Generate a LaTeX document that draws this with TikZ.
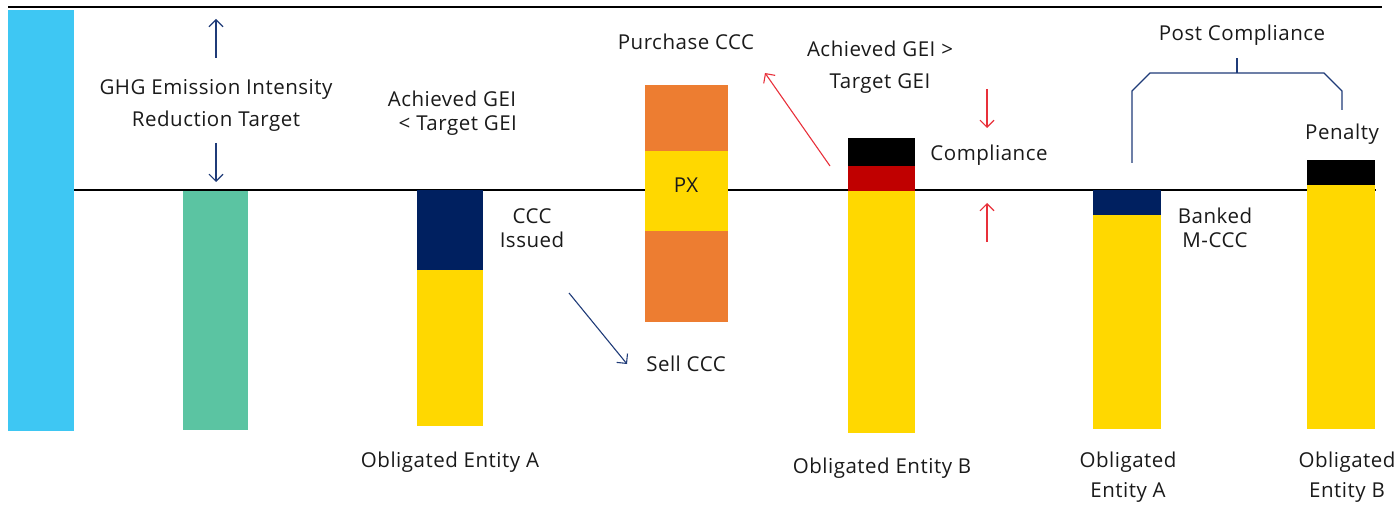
\documentclass[tikz,border=0pt]{standalone}
\usepackage{fontspec}
\setmainfont{Open Sans}[LetterSpace=2.5]
\usetikzlibrary{arrows.meta}
\definecolor{skyblue}{HTML}{3EC7F3}
\definecolor{teal}{HTML}{5BC4A2}
\definecolor{navy}{HTML}{002060}
\definecolor{arrownavy}{HTML}{1F3B78}
\definecolor{gold}{HTML}{FFD800}
\definecolor{orange}{HTML}{ED7D31}
\definecolor{crimson}{HTML}{C00000}
\definecolor{ink}{HTML}{1A1A1A}
\definecolor{redarrow}{HTML}{E8303A}
\tikzset{
  lbl/.style={text=ink, font=\fontsize{20.5}{24}\selectfont, align=center, inner sep=0pt},
  navyarrow/.style={draw=arrownavy, line width=1.1pt, -{Straight Barb[length=7pt,width=14pt]}},
  redarr/.style={draw=redarrow, line width=1.1pt, -{Straight Barb[length=7pt,width=14pt]}},
  bracket/.style={draw=arrownavy, line width=1.1pt},
  rule/.style={draw=black, line width=2pt}
}
\begin{document}
\begin{tikzpicture}[x=1pt,y=-1pt]
\useasboundingbox (0,0) rectangle (1400,505);
% reference lines
\draw[rule] (8,7) -- (1382,7);
\draw[rule] (74,190) -- (1376,190);
% baseline bar and target bar
\fill[skyblue] (8,10) rectangle (74,431);
\fill[teal] (183,191) rectangle (248,430);
% obligated entity A
\fill[navy] (417,190) rectangle (483,270);
\fill[gold] (417,270) rectangle (483,426);
% PX stack
\fill[orange] (645,85) rectangle (728,151);
\fill[gold] (645,151) rectangle (728,231);
\fill[orange] (645,231) rectangle (728,322);
% obligated entity B
\fill[black] (848,138) rectangle (915,166);
\fill[crimson] (848,166) rectangle (915,191);
\fill[gold] (848,191) rectangle (915,433);
% post compliance: A
\fill[navy] (1093,190) rectangle (1161,215);
\fill[gold] (1093,215) rectangle (1161,429);
% post compliance: B
\fill[black] (1307,160) rectangle (1375,185);
\fill[gold] (1307,185) rectangle (1375,429);

% labels
\node[lbl] (ghg) at (216,105) {GHG Emission Intensity\\[8pt]Reduction Target};
\node[lbl] (achA) at (452,113) {Achieved GEI\\\ \ < Target GEI};
\node[lbl] (issued) at (532,228) {CCC\\Issued};
\node[lbl] (sell) at (686,364) {Sell CCC};
\node[lbl] (px) at (686,185) {PX};
\node[lbl] (buy) at (686,42) {Purchase CCC};
\node[lbl] (achB) at (880,67) {Achieved GEI >\\[8pt]Target GEI};
\node[lbl] (comp) at (989,155) {Compliance};
\node[lbl] (entA) at (450,462) {Obligated Entity A};
\node[lbl] (entB) at (882,468) {Obligated Entity B};
\node[lbl] (bank) at (1215,228) {Banked\\M-CCC};
\node[lbl] (pen) at (1342,134) {Penalty};
\node[lbl] (post) at (1242,35) {Post Compliance};
\node[lbl] (entA2) at (1128,477) {Obligated\\[6pt]Entity A};
\node[lbl] (entB2) at (1347,477) {Obligated\\[6pt]Entity B};

% arrow end points
\coordinate (tUpA) at (216,58);
\coordinate (tUpB) at (216,19);
\coordinate (tDnA) at (216,143);
\coordinate (tDnB) at (216,182);
\coordinate (sellA) at (569,293);
\coordinate (sellB) at (627,364);
\coordinate (buyA) at (830,166);
\coordinate (buyB) at (765,73);
\coordinate (cDnA) at (987,89);
\coordinate (cDnB) at (987,128);
\coordinate (cUpA) at (987,242);
\coordinate (cUpB) at (987,203);
\draw[navyarrow] (tUpA) -- (tUpB);
\draw[navyarrow] (tDnA) -- (tDnB);
\draw[navyarrow] (sellA) -- (sellB);
\draw[redarr] (buyA) -- (buyB);
\draw[redarr] (cDnA) -- (cDnB);
\draw[redarr] (cUpA) -- (cUpB);

% post compliance bracket
\coordinate (brL) at (1132,163);
\coordinate (brR) at (1342,110);
\coordinate (brMid) at (1237,73);
\coordinate (brTop) at (1237,58);
\draw[bracket] (brL) -- (1132,91) -- (1150,73) -- (1324,73) -- (1342,91) -- (brR);
\draw[bracket] (brMid) -- (brTop);
\end{tikzpicture}
\end{document}
